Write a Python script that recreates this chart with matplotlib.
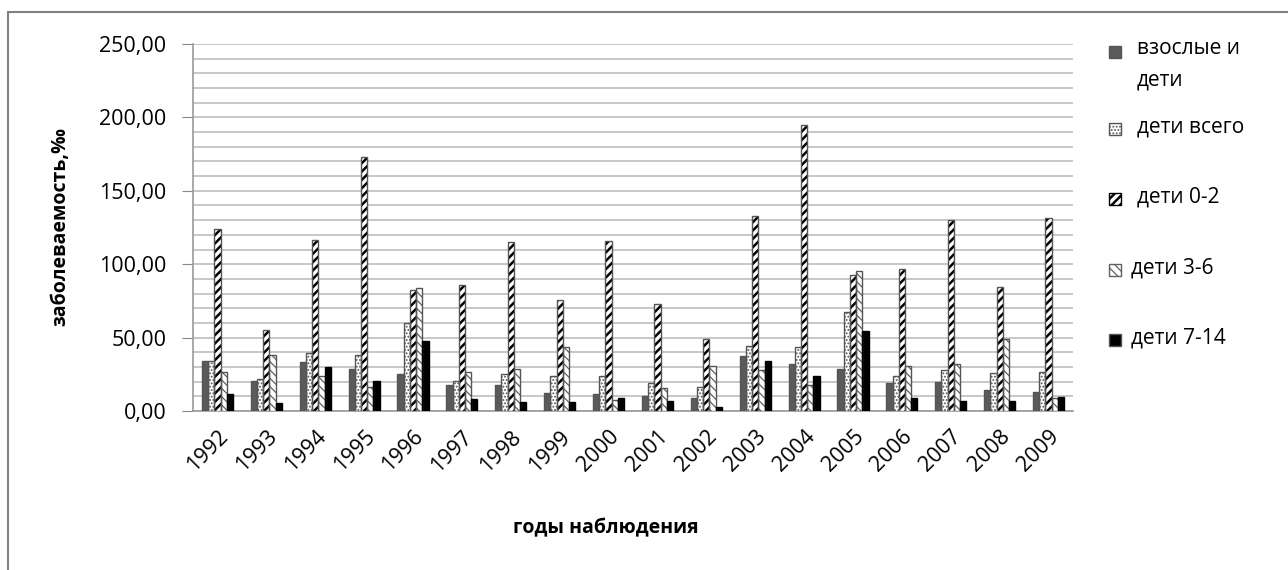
import matplotlib
matplotlib.use('Agg')
import matplotlib.pyplot as plt
from matplotlib.patches import Rectangle
import numpy as np

plt.rcParams['font.family'] = ['Open Sans', 'DejaVu Sans']

years = [str(y) for y in range(1992, 2010)]
adults_kids = [33.8, 20.7, 33.1, 28.9, 25.3, 17.6, 17.6, 12.4, 11.5, 10.1, 9.0, 37.7, 32.2, 28.9, 19.2, 19.8, 14.2, 13.1]
kids_all = [34.0, 21.9, 39.5, 37.9, 59.8, 20.7, 25.3, 23.7, 23.7, 19.2, 16.5, 44.4, 43.5, 67.6, 23.7, 27.7, 25.9, 26.6]
kids_0_2 = [124.0, 55.2, 116.8, 173.2, 82.3, 85.7, 115.0, 75.5, 116.1, 72.8, 49.2, 132.6, 195.0, 92.9, 97.0, 130.1, 84.6, 131.2]
kids_3_6 = [26.6, 37.9, 24.1, 16.5, 83.9, 26.6, 28.6, 43.5, 7.2, 15.6, 30.4, 27.7, 17.8, 95.2, 30.4, 32.0, 49.2, 8.6]
kids_7_14 = [11.3, 5.2, 29.8, 20.7, 47.8, 7.9, 6.1, 6.1, 8.8, 6.8, 2.7, 33.8, 23.7, 54.8, 8.6, 6.8, 6.8, 9.5]
labels = ['взослые и\nдети', 'дети всего', 'дети 0-2', 'дети 3-6', 'дети 7-14']

# fill, hatch, hatch colour for each series
styles = [('#5a5a5a', None, '#5a5a5a'),
          ('white', '.....', '#555555'),
          ('white', '////', 'black'),
          ('white', '\\\\\\\\', '#606060'),
          ('black', None, 'black')]
series = [adults_kids, kids_all, kids_0_2, kids_3_6, kids_7_14]

W, H = 1288, 570
fig = plt.figure(figsize=(W / 100, H / 100), dpi=100)
ax = fig.add_axes([193 / W, 1 - 411 / H, 880 / W, 367 / H])

x = np.arange(len(years))
bw = 0.127
for i, (vals, (fc, hatch, hc)) in enumerate(zip(series, styles)):
    pos = x + (i - 2) * bw
    plt.rcParams['hatch.linewidth'] = 1.8 if i == 2 else 0.9
    ax.bar(pos, vals, bw, color=fc, hatch=hatch, edgecolor=hc, linewidth=0, zorder=3)
    ax.bar(pos, vals, bw, fill=False, edgecolor='#555555' if i != 4 else 'black', linewidth=1.0, zorder=4)

ax.set_xlim(-0.5, len(years) - 0.5)
ax.set_ylim(0, 250)
ax.set_yticks(np.arange(0, 251, 50))
ax.set_yticks(np.arange(0, 251, 10), minor=True)
ax.set_yticklabels([f'{v:.2f}'.replace('.', ',') for v in np.arange(0, 251, 50)], fontsize=15.5)
ax.tick_params(axis='y', which='major', length=8, color='#888888', pad=11)
ax.tick_params(axis='y', which='minor', length=0)
ax.set_xticks(x)
ax.set_xticklabels(years, rotation=45, ha='right', rotation_mode='anchor', fontsize=15.5)
ax.tick_params(axis='x', length=0, pad=11)
ax.grid(axis='y', which='both', color='#bdbdbd', lw=1.2, zorder=0)
for s in ['top', 'right']:
    ax.spines[s].set_visible(False)
for s in ['left', 'bottom']:
    ax.spines[s].set_color('#9a9a9a')
    ax.spines[s].set_linewidth(1.2)
ax.set_axisbelow(True)

fig.text(60 / W, 1 - 227 / H, 'заболеваемость,‰', rotation=90, ha='center', va='center',
         fontsize=14, fontweight='bold')
fig.text(606 / W, 1 - 528 / H, 'годы наблюдения', ha='center', va='center',
         fontsize=14, fontweight='bold')

# legend on the right
leg_y = [52, 129, 199, 270, 340]
text_x = [1137, 1137, 1137, 1131, 1131]
for i, (lab, (fc, hatch, hc)) in enumerate(zip(labels, styles)):
    y = leg_y[i]
    plt.rcParams['hatch.linewidth'] = 1.8 if i == 2 else 0.9
    fig.patches.append(Rectangle((1109 / W, 1 - (y + 6) / H), 12 / W, 12 / H, transform=fig.transFigure,
                                 facecolor=fc, hatch=hatch, edgecolor='#555555' if hatch is None else hc,
                                 linewidth=1))
    if i == 0:
        fig.text(text_x[i] / W, 1 - (y - 14) / H, lab, ha='left', va='top', fontsize=15, linespacing=1.65)
    else:
        fig.text(text_x[i] / W, 1 - (y - 2) / H, lab, ha='left', va='center', fontsize=15)

# outer frame
fig.patches.append(Rectangle((8 / W, -0.1), 2, 1 - 12 / H + 0.1, transform=fig.transFigure,
                             fill=False, edgecolor='#808080', linewidth=1.5))

fig.savefig('out.png', dpi=100)
